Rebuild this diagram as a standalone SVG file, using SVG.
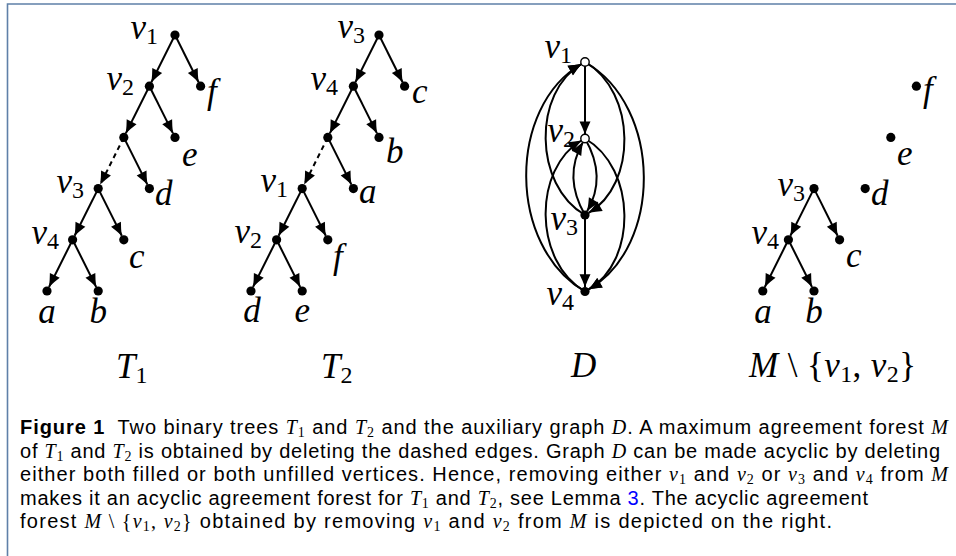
<svg xmlns="http://www.w3.org/2000/svg" width="956" height="556" viewBox="0 0 956 556">
<defs>
<marker id="arr" markerUnits="userSpaceOnUse" markerWidth="16" markerHeight="14" refX="13" refY="5.5" orient="auto" overflow="visible">
<path d="M13,5.5 Q6,3 0,0 L0,11 Q6,8 13,5.5 Z" fill="#000"/>
</marker>
<style>
.e{stroke:#000;stroke-width:2;fill:none;marker-end:url(#arr)}
.dash{stroke-dasharray:5 4}
.n{fill:#000}
.o{fill:#fff;stroke:#000;stroke-width:1.4}
.lb{font-family:"Liberation Serif","DejaVu Serif",serif;font-style:italic;font-size:35px;fill:#000}
.sb{font-style:normal;font-size:24px}
.rm{font-style:normal}
.cap{font-family:"Liberation Sans","DejaVu Sans",sans-serif;font-size:20px;fill:#000}
.m{font-family:"Liberation Serif","DejaVu Serif",serif;font-style:italic}
.mr{font-family:"Liberation Serif","DejaVu Serif",serif;font-style:normal}
.ms{font-family:"Liberation Serif","DejaVu Serif",serif;font-style:normal;font-size:14px}
.b{font-weight:bold}
.lnk{fill:#0000ff}
</style>
</defs>
<rect width="956" height="556" fill="#fff"/>
<path d="M7.5,556 V4 H956" fill="none" stroke="#5f80a8" stroke-width="1.6"/>

<g id="connectors">
<!-- T1 -->
<path class="e" d="M175,35 L151.4,82.2"/>
<path class="e" d="M175,35 L198.6,82.2"/>
<path class="e" d="M149.4,86.2 L125.8,133.4"/>
<path class="e" d="M149.4,86.2 L173,133.4"/>
<path class="e dash" d="M123.8,137.4 L100.2,184.6"/>
<path class="e" d="M123.8,137.4 L147.4,184.6"/>
<path class="e" d="M98.2,188.6 L74.6,235.8"/>
<path class="e" d="M98.2,188.6 L121.8,235.8"/>
<path class="e" d="M72.6,239.8 L49,287"/>
<path class="e" d="M72.6,239.8 L96.2,287"/>
<!-- T2 -->
<path class="e" d="M379,35 L355.4,82.2"/>
<path class="e" d="M379,35 L402.6,82.2"/>
<path class="e" d="M353.4,86.2 L329.8,133.4"/>
<path class="e" d="M353.4,86.2 L377,133.4"/>
<path class="e dash" d="M327.8,137.4 L304.2,184.6"/>
<path class="e" d="M327.8,137.4 L351.4,184.6"/>
<path class="e" d="M302.2,188.6 L278.6,235.8"/>
<path class="e" d="M302.2,188.6 L325.8,235.8"/>
<path class="e" d="M276.6,239.8 L253,287"/>
<path class="e" d="M276.6,239.8 L300.2,287"/>
<!-- D -->
<path class="e" d="M585,62 L585,134.5"/>
<path class="e" d="M585,215 L585,287.2"/>
<path class="e" d="M585,62 C662.8,106.9 662.8,246.6 588.7,289.35"/>
<path class="e" d="M585,291.5 C507.2,246.6 507.2,106.9 581.5,64"/>
<path class="e" d="M585,62 C636.9,92 636.9,185 588.7,212.85"/>
<path class="e" d="M585,215 C533.1,185 533.1,92 581.5,64"/>
<path class="e" d="M585,138.5 C636.9,168.5 636.9,261.5 588.7,289.35"/>
<path class="e" d="M585,291.5 C533.1,261.5 533.1,168.5 581.5,140.5"/>
<path class="e" d="M585,138.5 C600,164.4 600,189.1 587.15,211.3"/>
<path class="e" d="M585,215 C570,189.1 570,164.4 583,142"/>
<!-- M -->
<path class="e" d="M814,188.6 L790.4,235.8"/>
<path class="e" d="M814,188.6 L837.6,235.8"/>
<path class="e" d="M788.4,239.8 L764.8,287"/>
<path class="e" d="M788.4,239.8 L812,287"/>
</g>

<!-- T1 nodes -->
<g id="t1-v1"><circle class="n" cx="175" cy="35" r="4.6"/><text class="lb" x="158" y="39" text-anchor="end">v<tspan class="sb" dy="5">1</tspan></text></g>
<g id="t1-v2"><circle class="n" cx="149.4" cy="86.2" r="4.6"/><text class="lb" x="134" y="90" text-anchor="end">v<tspan class="sb" dy="5">2</tspan></text></g>
<g id="t1-f"><circle class="n" cx="200.6" cy="86.2" r="4.6"/><text class="lb" x="207" y="103">f</text></g>
<g id="t1-u"><circle class="n" cx="123.8" cy="137.4" r="4.6"/></g>
<g id="t1-e"><circle class="n" cx="175" cy="137.4" r="4.6"/><text class="lb" x="182" y="166">e</text></g>
<g id="t1-v3"><circle class="n" cx="98.2" cy="188.6" r="4.6"/><text class="lb" x="84" y="193" text-anchor="end">v<tspan class="sb" dy="5">3</tspan></text></g>
<g id="t1-d"><circle class="n" cx="149.4" cy="188.6" r="4.6"/><text class="lb" x="155" y="205">d</text></g>
<g id="t1-v4"><circle class="n" cx="72.6" cy="239.8" r="4.6"/><text class="lb" x="59" y="244" text-anchor="end">v<tspan class="sb" dy="5">4</tspan></text></g>
<g id="t1-c"><circle class="n" cx="123.8" cy="239.8" r="4.6"/><text class="lb" x="129" y="268">c</text></g>
<g id="t1-a"><circle class="n" cx="47" cy="291" r="4.6"/><text class="lb" x="47" y="323" text-anchor="middle">a</text></g>
<g id="t1-b"><circle class="n" cx="98.2" cy="291" r="4.6"/><text class="lb" x="98.2" y="323" text-anchor="middle">b</text></g>
<g id="t1-title"><text class="lb" x="116" y="378">T<tspan class="sb" dy="5">1</tspan></text></g>

<!-- T2 nodes -->
<g id="t2-v3"><circle class="n" cx="379" cy="35" r="4.6"/><text class="lb" x="365" y="38" text-anchor="end">v<tspan class="sb" dy="5">3</tspan></text></g>
<g id="t2-v4"><circle class="n" cx="353.4" cy="86.2" r="4.6"/><text class="lb" x="338" y="90" text-anchor="end">v<tspan class="sb" dy="5">4</tspan></text></g>
<g id="t2-c"><circle class="n" cx="404.6" cy="86.2" r="4.6"/><text class="lb" x="412" y="103">c</text></g>
<g id="t2-u"><circle class="n" cx="327.8" cy="137.4" r="4.6"/></g>
<g id="t2-b"><circle class="n" cx="379" cy="137.4" r="4.6"/><text class="lb" x="386" y="163">b</text></g>
<g id="t2-v1"><circle class="n" cx="302.2" cy="188.6" r="4.6"/><text class="lb" x="288" y="192" text-anchor="end">v<tspan class="sb" dy="5">1</tspan></text></g>
<g id="t2-a"><circle class="n" cx="353.4" cy="188.6" r="4.6"/><text class="lb" x="359" y="203">a</text></g>
<g id="t2-v2"><circle class="n" cx="276.6" cy="239.8" r="4.6"/><text class="lb" x="262" y="243" text-anchor="end">v<tspan class="sb" dy="5">2</tspan></text></g>
<g id="t2-f"><circle class="n" cx="327.8" cy="239.8" r="4.6"/><text class="lb" x="333" y="268">f</text></g>
<g id="t2-d"><circle class="n" cx="251" cy="291" r="4.6"/><text class="lb" x="252" y="322" text-anchor="middle">d</text></g>
<g id="t2-e"><circle class="n" cx="302.2" cy="291" r="4.6"/><text class="lb" x="302.2" y="322" text-anchor="middle">e</text></g>
<g id="t2-title"><text class="lb" x="321" y="378">T<tspan class="sb" dy="5">2</tspan></text></g>

<!-- D nodes -->
<g id="d-v1"><circle class="o" cx="585" cy="62" r="4.2"/><text class="lb" x="572" y="58" text-anchor="end">v<tspan class="sb" dy="5">1</tspan></text></g>
<g id="d-v2"><circle class="o" cx="585" cy="138.5" r="4.2"/><text class="lb" x="575" y="142" text-anchor="end">v<tspan class="sb" dy="5">2</tspan></text></g>
<g id="d-v3"><circle class="n" cx="585" cy="215" r="4.6"/><text class="lb" x="578" y="230" text-anchor="end">v<tspan class="sb" dy="5">3</tspan></text></g>
<g id="d-v4"><circle class="n" cx="585" cy="291.5" r="4.6"/><text class="lb" x="574" y="305" text-anchor="end">v<tspan class="sb" dy="5">4</tspan></text></g>
<g id="d-title"><text class="lb" x="571" y="377">D</text></g>

<!-- M nodes -->
<g id="m-v3"><circle class="n" cx="814" cy="188.6" r="4.6"/><text class="lb" x="805" y="196" text-anchor="end">v<tspan class="sb" dy="5">3</tspan></text></g>
<g id="m-v4"><circle class="n" cx="788.4" cy="239.8" r="4.6"/><text class="lb" x="779" y="244" text-anchor="end">v<tspan class="sb" dy="5">4</tspan></text></g>
<g id="m-c"><circle class="n" cx="839.6" cy="239.8" r="4.6"/><text class="lb" x="846" y="267">c</text></g>
<g id="m-a"><circle class="n" cx="762.8" cy="291" r="4.6"/><text class="lb" x="763" y="323" text-anchor="middle">a</text></g>
<g id="m-b"><circle class="n" cx="814" cy="291" r="4.6"/><text class="lb" x="814" y="323" text-anchor="middle">b</text></g>
<g id="m-d"><circle class="n" cx="865.2" cy="188.6" r="4.6"/><text class="lb" x="871" y="205">d</text></g>
<g id="m-e"><circle class="n" cx="890.8" cy="137.4" r="4.6"/><text class="lb" x="897" y="165">e</text></g>
<g id="m-f"><circle class="n" cx="916.4" cy="86.2" r="4.6"/><text class="lb" x="923" y="101">f</text></g>
<g id="m-title"><text class="lb" x="749" y="377" textLength="167" lengthAdjust="spacing">M<tspan class="rm"> \ {</tspan>v<tspan class="sb" dy="5">1</tspan><tspan class="rm" dy="-5">, </tspan>v<tspan class="sb" dy="5">2</tspan><tspan class="rm" dy="-5">}</tspan></text></g>

<!-- caption -->
<g id="caption" class="cap">
<text x="20" y="434" textLength="928" lengthAdjust="spacing"><tspan class="b">Figure 1</tspan><tspan dx="6"> Two binary trees </tspan><tspan class="m">T</tspan><tspan class="ms" dy="3">1</tspan><tspan dy="-3"> and </tspan><tspan class="m">T</tspan><tspan class="ms" dy="3">2</tspan><tspan dy="-3"> and the auxiliary graph </tspan><tspan class="m">D</tspan>. A maximum agreement forest <tspan class="m">M</tspan></text>
<text x="20" y="457.5" textLength="920" lengthAdjust="spacing">of <tspan class="m">T</tspan><tspan class="ms" dy="3">1</tspan><tspan dy="-3"> and </tspan><tspan class="m">T</tspan><tspan class="ms" dy="3">2</tspan><tspan dy="-3"> is obtained by deleting the dashed edges. Graph </tspan><tspan class="m">D</tspan> can be made acyclic by deleting</text>
<text x="20" y="481" textLength="928" lengthAdjust="spacing">either both filled or both unfilled vertices. Hence, removing either <tspan class="m">v</tspan><tspan class="ms" dy="3">1</tspan><tspan dy="-3"> and </tspan><tspan class="m">v</tspan><tspan class="ms" dy="3">2</tspan><tspan dy="-3"> or </tspan><tspan class="m">v</tspan><tspan class="ms" dy="3">3</tspan><tspan dy="-3"> and </tspan><tspan class="m">v</tspan><tspan class="ms" dy="3">4</tspan><tspan dy="-3"> from </tspan><tspan class="m">M</tspan></text>
<text x="20" y="504.5" textLength="848" lengthAdjust="spacing">makes it an acyclic agreement forest for <tspan class="m">T</tspan><tspan class="ms" dy="3">1</tspan><tspan dy="-3"> and </tspan><tspan class="m">T</tspan><tspan class="ms" dy="3">2</tspan><tspan dy="-3">, see Lemma </tspan><tspan class="lnk">3</tspan>. The acyclic agreement</text>
<text x="20" y="528" textLength="812" lengthAdjust="spacing">forest <tspan class="m">M</tspan><tspan class="mr"> \ {</tspan><tspan class="m">v</tspan><tspan class="ms" dy="3">1</tspan><tspan class="mr" dy="-3">, </tspan><tspan class="m">v</tspan><tspan class="ms" dy="3">2</tspan><tspan class="mr" dy="-3">}</tspan> obtained by removing <tspan class="m">v</tspan><tspan class="ms" dy="3">1</tspan><tspan dy="-3"> and </tspan><tspan class="m">v</tspan><tspan class="ms" dy="3">2</tspan><tspan dy="-3"> from </tspan><tspan class="m">M</tspan> is depicted on the right.</text>
</g>
</svg>
